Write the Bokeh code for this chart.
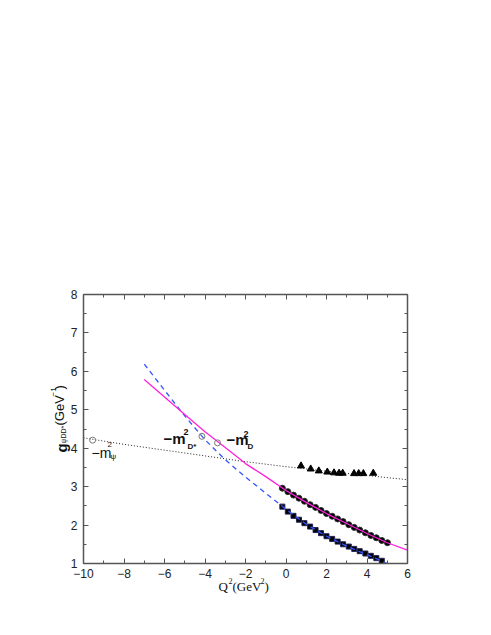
from math import pi
from bokeh.plotting import figure
from bokeh.models import LinearAxis, SingleIntervalTicker, Label, Range1d
from bokeh.embed import file_html
from bokeh.resources import INLINE

# ---- data ----
q2_circ = [-0.18, 0.09, 0.37, 0.64, 0.91, 1.19, 1.46, 1.73, 2.00, 2.28,
           2.55, 2.82, 3.10, 3.37, 3.64, 3.92, 4.19, 4.46, 4.73, 5.01]
g_circ = [2.96, 2.87, 2.78, 2.70, 2.62, 2.53, 2.46, 2.38, 2.30, 2.23,
          2.16, 2.09, 2.01, 1.94, 1.87, 1.80, 1.73, 1.67, 1.60, 1.54]

q2_sq = [-0.18, 0.09, 0.37, 0.64, 0.91, 1.19, 1.46, 1.73, 2.00, 2.28,
         2.55, 2.82, 3.10, 3.37, 3.64, 3.92, 4.19, 4.46, 4.73]
g_sq = [2.48, 2.35, 2.24, 2.14, 2.05, 1.96, 1.87, 1.79, 1.71, 1.64,
        1.57, 1.50, 1.44, 1.38, 1.32, 1.26, 1.20, 1.14, 1.07]

q2_tri = [0.74, 1.22, 1.62, 2.04, 2.37, 2.62, 2.80, 3.36, 3.59, 3.82, 4.31]
g_tri = [3.54, 3.46, 3.41, 3.38, 3.36, 3.35, 3.35, 3.34, 3.34, 3.34, 3.35]

# fitted curves
q2_mag = [-7, -6, -5, -4, -3, -2, -1, 0, 1, 2, 3, 4, 5, 6]
g_mag = [5.79, 5.33, 4.88, 4.43, 4.02, 3.60, 3.26, 2.90, 2.59, 2.30, 2.04, 1.78, 1.54, 1.35]

q2_blue = [-7, -6, -5, -4, -3, -2, -1, 0, 1, 2, 3, 4, 5]
g_blue = [6.19, 5.51, 4.84, 4.22, 3.70, 3.25, 2.83, 2.41, 2.02, 1.71, 1.45, 1.23, 1.00]

q2_dot = [-10, -8, -6, -4, -2, 0, 2, 4, 6]
g_dot = [4.27, 4.10, 3.95, 3.80, 3.65, 3.52, 3.40, 3.29, 3.18]

# extrapolated points at -m^2 (psi, D*, D)
q2_open = [-9.55, -4.15, -3.38]
g_open = [4.21, 4.31, 4.14]

x_ticks = [-10, -8, -6, -4, -2, 0, 2, 4, 6]
x_tick_labels = ["\u221210", "\u22128", "\u22126", "\u22124", "\u22122", "0", "2", "4", "6"]
y_ticks = [1, 2, 3, 4, 5, 6, 7, 8]

# ---- figure ----
p = figure(width=483, height=627, output_backend="svg", toolbar_location=None,
           x_range=Range1d(-10, 6), y_range=Range1d(1, 8),
           min_border_left=83, min_border_right=76, min_border_top=294,
           min_border_bottom=64)
p.outline_line_color = None
p.grid.visible = False
p.background_fill_color = "white"

AX_COL = "#555555"
def style_axis(ax):
    ax.axis_line_color = AX_COL
    ax.axis_line_width = 1.5
    ax.major_tick_line_color = AX_COL
    ax.minor_tick_line_color = AX_COL
    ax.major_tick_in = 5
    ax.major_tick_out = 0
    ax.minor_tick_in = 3
    ax.minor_tick_out = 0
    ax.major_label_text_font = "Liberation Sans"
    ax.major_label_text_font_size = "12px"
    ax.major_label_text_color = "#222222"
    ax.major_label_standoff = 5

p.xaxis.ticker = SingleIntervalTicker(interval=2, num_minor_ticks=2)
p.yaxis.ticker = SingleIntervalTicker(interval=1, num_minor_ticks=2)
p.xaxis.major_label_overrides = {t: l for t, l in zip(x_ticks, x_tick_labels)}
style_axis(p.xaxis[0])
style_axis(p.yaxis[0])
p.yaxis.major_label_standoff = 6

top = LinearAxis(ticker=SingleIntervalTicker(interval=2, num_minor_ticks=2))
style_axis(top)
top.major_label_overrides = {t: "" for t in x_ticks}
p.add_layout(top, "above")
right = LinearAxis(ticker=SingleIntervalTicker(interval=1, num_minor_ticks=2))
style_axis(right)
right.major_label_overrides = {t: "" for t in y_ticks}
p.add_layout(right, "right")

# markers
p.scatter(q2_circ, g_circ, marker="circle", size=6, fill_color="black", line_color="#333333")
p.scatter(q2_sq, g_sq, marker="square", size=5, fill_color="black", line_color="#222255")
p.scatter(q2_tri, g_tri, marker="triangle", size=7, fill_color="black", line_color="black")

# curves
p.line(q2_dot, g_dot, line_color="#222222", line_width=1, line_dash="1 2")
p.line(q2_blue, g_blue, line_color="#3355ff", line_width=1.3, line_dash="5 4")
p.line(q2_mag, g_mag, line_color="#ff22dd", line_width=1.3)
p.scatter(q2_open, g_open, marker="circle", size=6, fill_color=None,
          line_color="#777777", line_width=1)

# ---- annotations, placed in canvas pixels ----
def mk(text, px, py, size, bold=False, font="Liberation Sans", angle=0, align="left"):
    return Label(x=px, y=py, x_units="canvas", y_units="canvas", text=text,
                 text_font=font, text_font_size=f"{size}px",
                 text_font_style="bold" if bold else "normal",
                 text_color="#111111", text_baseline="middle", text_align=align,
                 angle=angle)

def lab(*a, **k):
    p.add_layout(mk(*a, **k))

def outside(*a, **k):
    # texts outside the frame go to the (roomy) top panel so they are not clipped
    p.add_layout(mk(*a, **k), "above")

# -m^2_D*
lab("\u2212m", 163, 438, 15, bold=True)
lab("2", 183, 431, 9, bold=True)
lab("D*", 187, 446, 8, bold=True)
# -m^2_D
lab("\u2212m", 226, 439, 15, bold=True)
lab("2", 243, 433, 9, bold=True)
lab("D", 247, 446, 8, bold=True)
# -m^2_psi
lab("\u2212m", 91, 452, 14)
lab("2", 107, 444, 8)
lab("\u03c8", 110, 456, 8)

# x axis title
outside("Q", 218, 586, 13, font="Liberation Serif")
outside("2", 228, 580, 8, font="Liberation Serif")
outside("(GeV", 232, 586, 13, font="Liberation Serif")
outside("2", 260, 580, 8, font="Liberation Serif")
outside(")", 264, 586, 13, font="Liberation Serif")

# y axis title (rotated)
outside("g", 60.5, 452, 15, bold=True, angle=pi / 2)
outside("\u03c8DD*", 63, 443, 7, angle=pi / 2)
outside("(GeV", 59, 425, 13, angle=pi / 2)
outside("\u22121", 53, 396, 8, angle=pi / 2)
outside(")", 59, 389, 13, angle=pi / 2)

open("out.html", "w").write(file_html(p, INLINE))
